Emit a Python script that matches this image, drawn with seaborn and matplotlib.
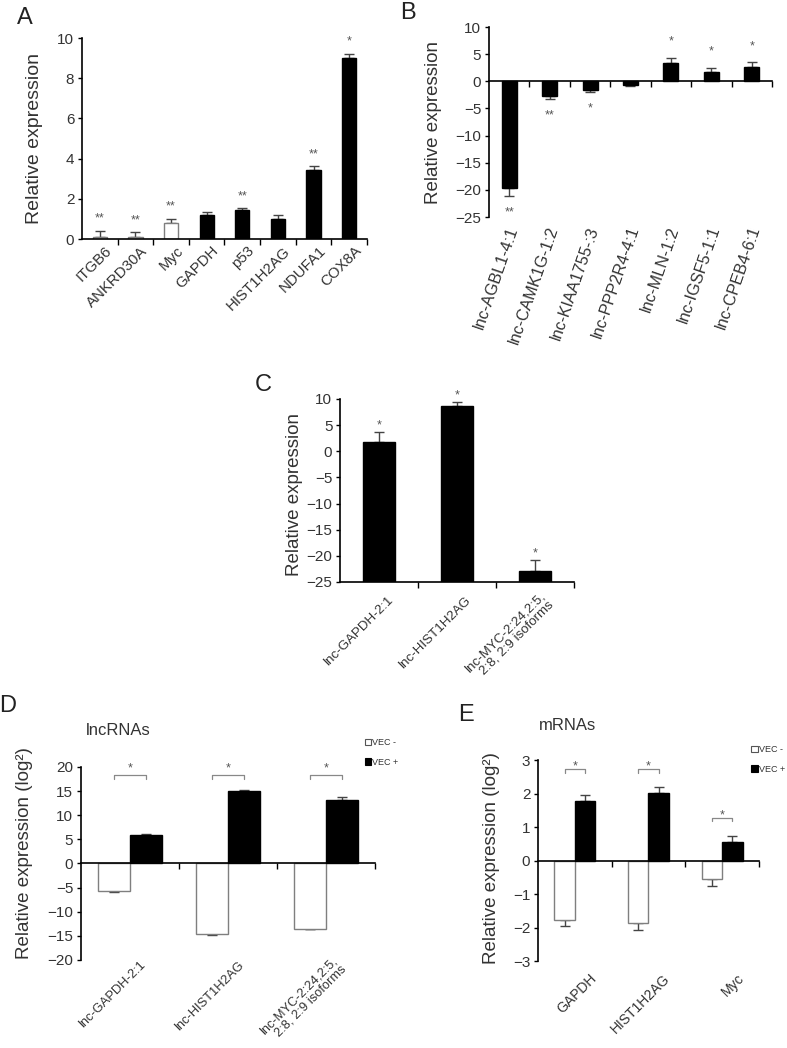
import numpy as np
import pandas as pd
import matplotlib
matplotlib.use('Agg')
import matplotlib.pyplot as plt
import matplotlib.transforms as mtransforms
from matplotlib.patches import Patch
import seaborn as sns

# A: mRNA relative expression
genes_a = ['ITGB6', 'ANKRD30A', 'Myc', 'GAPDH', 'p53', 'HIST1H2AG', 'NDUFA1', 'COX8A']
values_a = [0.12, 0.12, 0.8, 1.2, 1.46, 1.0, 3.44, 9.03]
errors_a = [0.3, 0.22, 0.22, 0.16, 0.07, 0.2, 0.18, 0.2]
stars_a = ['**', '**', '**', '', '**', '', '**', '*']
fills_a = ['white', 'white', 'white', 'black', 'black', 'black', 'black', 'black']

# B: lncRNA relative expression
genes_b = ['lnc-AGBL1-4:1', 'lnc-CAMK1G-1:2', 'lnc-KIAA1755-:3', 'lnc-PPP2R4-4:1',
           'lnc-MLN-1:2', 'lnc-IGSF5-1:1', 'lnc-CPEB4-6:1']
values_b = [-19.7, -2.7, -1.6, -0.6, 3.3, 1.75, 2.65]
errors_b = [1.5, 0.6, 0.45, 0.2, 1.0, 0.75, 0.85]
stars_b = ['**', '**', '*', '', '*', '*', '*']

# C: lncRNAs (bars rise from the axis floor)
genes_c = ['lnc-GAPDH-2:1', 'lnc-HIST1H2AG', 'lnc-MYC-2:24,2:5,\n2:8, 2:9 isoforms']
values_c = [1.85, 8.66, -22.84]
errors_c = [1.85, 0.7, 2.1]
stars_c = ['*', '*', '*']
floor_c = -25

# D: lncRNAs, VEC - / VEC +
groups = ['VEC -', 'VEC +']
genes_d = ['lnc-GAPDH-2:1', 'lnc-HIST1H2AG', 'lnc-MYC-2:24,2:5,\n2:8, 2:9 isoforms']
vec_minus_d = [-5.65, -14.7, -13.5]
vec_minus_err_d = [0.2, 0.15, 0.05]
vec_plus_d = [5.9, 15.1, 13.1]
vec_plus_err_d = [0.1, 0.1, 0.6]
bracket_d = [18.4, 18.4, 18.4]

# E: mRNAs, VEC - / VEC +
genes_e = ['GAPDH', 'HIST1H2AG', 'Myc']
vec_minus_e = [-1.77, -1.88, -0.56]
vec_minus_err_e = [0.19, 0.2, 0.19]
vec_plus_e = [1.79, 2.02, 0.55]
vec_plus_err_e = [0.18, 0.18, 0.18]
bracket_e = [2.72, 2.72, 1.28]

sns.set_style('ticks')
plt.rcParams['font.family'] = ['Liberation Sans', 'DejaVu Sans']
plt.rcParams['axes.linewidth'] = 1.2
plt.rcParams['axes.edgecolor'] = 'black'

TEXT = '#333333'
STAR = '#555555'
EDGE_WHITE = '#7f7f7f'
ERR = '#444444'

fig = plt.figure(figsize=(7.87, 10.48), dpi=100)
ax_a = fig.add_axes([0.1042, 0.7719, 0.3621, 0.1918])
ax_b = fig.add_axes([0.6213, 0.7929, 0.3596, 0.1813])
ax_c = fig.add_axes([0.4320, 0.4447, 0.2973, 0.1746])
ax_d = fig.add_axes([0.1029, 0.0840, 0.3736, 0.1842])
ax_e = fig.add_axes([0.6836, 0.0830, 0.2808, 0.1918])


def centers(ax):
    return [p.get_x() + p.get_width() / 2 for p in ax.patches]


def one_sided_errors(ax, xs, vals, errs, up=None):
    vals = np.asarray(vals, dtype=float)
    errs = np.asarray(errs, dtype=float)
    goes_up = vals >= 0 if up is None else np.full(len(vals), up)
    lower = np.where(goes_up, 0, errs)
    upper = np.where(goes_up, errs, 0)
    ax.errorbar(xs, vals, yerr=[lower, upper], fmt='none', ecolor=ERR,
                elinewidth=1, capsize=3.5, capthick=1, zorder=0.9)


def add_stars(ax, xs, tips, stars, offset, size=9):
    for x, tip, s in zip(xs, tips, stars):
        if s:
            y = tip + offset if tip >= 0 else tip - offset
            ax.text(x, y, s, ha='center', va='center', fontsize=size, color=STAR)


def style_axes(ax, labels, ylim, yticks, ylabel, ylab_pos, rot, lab_size,
               pad_pt, dx_pt, zero_spine=True, ylab_size=13.5):
    n = len(labels)
    sns.despine(ax=ax)
    ax.set_xlim(-0.5, n - 0.5)
    ax.set_ylim(*ylim)
    ax.set_yticks(yticks)
    ax.set_xticks(np.arange(n) + 0.5)
    ax.set_xticklabels([])
    ax.set_xlabel('')
    ax.tick_params(axis='x', length=4, width=1, direction='out', color='black')
    ax.tick_params(axis='y', length=3, width=1, direction='out', color='black',
                   labelsize=11, labelcolor=TEXT, pad=2.5)
    if zero_spine:
        ax.spines['bottom'].set_position(('data', 0))
    ax.set_ylabel(ylabel, fontsize=ylab_size, color=TEXT)
    ax.yaxis.set_label_coords(*ylab_pos)

    sec = ax.secondary_xaxis('bottom')
    sec.set_ticks(np.arange(n), labels=labels)
    sec.tick_params(length=0, pad=pad_pt, labelsize=lab_size, labelcolor=TEXT)
    sec.spines['bottom'].set_visible(False)
    shift = mtransforms.ScaledTranslation(dx_pt / 72, 0, fig.dpi_scale_trans)
    for lbl in sec.get_xticklabels():
        lbl.set_rotation(rot)
        lbl.set_ha('right')
        lbl.set_va('center')
        lbl.set_rotation_mode('anchor')
        lbl.set_multialignment('right')
        lbl.set_linespacing(1.0)
        lbl.set_transform(lbl.get_transform() + shift)


# ---- A ----
df_a = pd.DataFrame({'gene': genes_a, 'value': values_a})
sns.barplot(data=df_a, x='gene', y='value', hue='gene', palette=fills_a, legend=False,
            width=0.4, saturation=1, errorbar=None, linewidth=1, ax=ax_a)
for patch, fill in zip(ax_a.patches, fills_a):
    patch.set_edgecolor(EDGE_WHITE if fill == 'white' else 'black')
xs_a = centers(ax_a)
one_sided_errors(ax_a, xs_a, values_a, errors_a)
add_stars(ax_a, xs_a, np.add(values_a, errors_a), stars_a, 0.6)
style_axes(ax_a, genes_a, (0, 10), range(0, 11, 2), 'Relative expression', (-0.137, 0.5),
           45, 10.8, 7, 7, ylab_size=14)

# ---- B ----
sns.barplot(x=genes_b, y=values_b, color='black', saturation=1, width=0.37,
            errorbar=None, linewidth=1, edgecolor='black', ax=ax_b)
xs_b = centers(ax_b)
tips_b = [v + e if v >= 0 else v - e for v, e in zip(values_b, errors_b)]
one_sided_errors(ax_b, xs_b, values_b, errors_b)
add_stars(ax_b, xs_b, tips_b, stars_b, 3.0)
style_axes(ax_b, genes_b, (-25, 10), range(-25, 11, 5), 'Relative expression', (-0.166, 0.5),
           71, 11.7, 7, 3)

# ---- C ----
sns.barplot(x=genes_c, y=np.subtract(values_c, floor_c), bottom=floor_c, color='black',
            saturation=1, width=0.4, errorbar=None, linewidth=1, edgecolor='black', ax=ax_c)
xs_c = centers(ax_c)
one_sided_errors(ax_c, xs_c, values_c, errors_c, up=True)
add_stars(ax_c, xs_c, np.add(values_c, errors_c) - floor_c, stars_c, 1.25)
for t in ax_c.texts:
    t.set_y(t.get_position()[1] + floor_c)
style_axes(ax_c, genes_c, (-25, 10), range(-25, 11, 5), 'Relative expression', (-0.158, 0.478),
           45, 9.6, 12, 9, zero_spine=False)


# ---- D / E ----
def grouped_panel(ax, genes, minus, minus_err, plus, plus_err, brackets, width,
                  star_gap, leg_drop, title, title_pos, legend_pos):
    df = pd.DataFrame({'gene': genes * 2,
                       'group': [groups[0]] * len(genes) + [groups[1]] * len(genes),
                       'value': minus + plus})
    sns.barplot(data=df, x='gene', y='value', hue='group', hue_order=groups,
                palette={groups[0]: 'white', groups[1]: 'black'}, legend=False,
                width=width, saturation=1, errorbar=None, linewidth=1, ax=ax)
    n = len(genes)
    for i, patch in enumerate(ax.patches):
        patch.set_edgecolor(EDGE_WHITE if i < n else 'black')
    xs = centers(ax)
    one_sided_errors(ax, xs, minus + plus, minus_err + plus_err)
    for i, level in enumerate(brackets):
        xw, xb = xs[i], xs[i + n]
        ax.plot([xw, xw, xb, xb], [level - leg_drop, level, level, level - leg_drop],
                color='#888888', lw=0.9)
        ax.text((xw + xb) / 2, level + star_gap, '*', ha='center', va='center',
                fontsize=9, color=STAR)
    ax.text(*title_pos, title, transform=ax.transAxes, ha='left', va='center',
            fontsize=12, color=TEXT)
    handles = [Patch(facecolor='white', edgecolor='#555555', linewidth=0.8, label=groups[0]),
               Patch(facecolor='black', edgecolor='black', linewidth=0.8, label=groups[1])]
    leg = ax.legend(handles=handles, loc='upper left', bbox_to_anchor=legend_pos,
                    frameon=False, fontsize=6.5, handlelength=0.7, handleheight=0.7,
                    handletextpad=0.15, labelspacing=1.2, borderaxespad=0, borderpad=0)
    for t in leg.get_texts():
        t.set_color(TEXT)


grouped_panel(ax_d, genes_d, vec_minus_d, vec_minus_err_d, vec_plus_d, vec_plus_err_d,
              bracket_d, 0.66, 1.3, 0.8, 'lncRNAs', (0.015, 1.19), (0.965, 1.15))
style_axes(ax_d, genes_d, (-20, 20), range(-20, 21, 5), 'Relative expression (log²)',
           (-0.163, 0.554), 45, 9.3, 2.5, 10)

grouped_panel(ax_e, genes_e, vec_minus_e, vec_minus_err_e, vec_plus_e, vec_plus_err_e,
              bracket_e, 0.56, 0.08, 0.1, 'mRNAs', (0.005, 1.174), (0.965, 1.075))
style_axes(ax_e, genes_e, (-3, 3), range(-3, 4), 'Relative expression (log²)',
           (-0.172, 0.51), 45, 10, 11, 14)

# panel letters
for letter, x, y in [('A', 25, 18), ('B', 408, 13), ('C', 263, 385), ('D', 8, 706), ('E', 466, 715)]:
    fig.text(x / 787, 1 - y / 1048, letter, fontsize=17, ha='center', va='center', color='#222222')

fig.savefig('out.png', dpi=100)
